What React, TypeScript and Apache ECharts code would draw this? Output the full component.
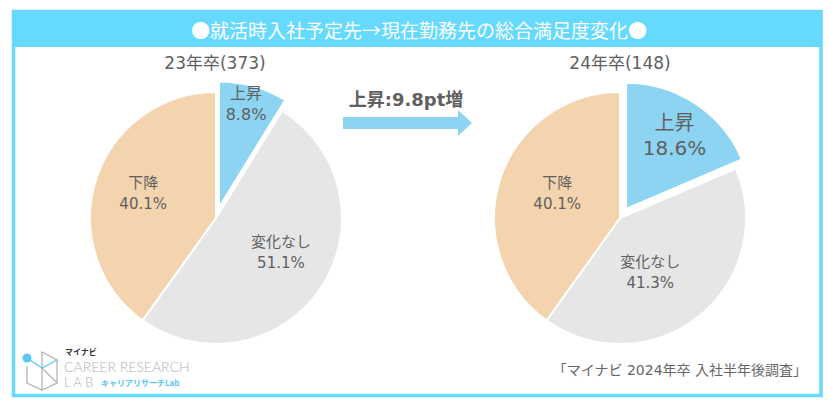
import React, { useEffect, useRef } from "react";
import * as echarts from "echarts";

const categories = ["上昇", "変化なし", "下降"];
const values23 = [8.8, 51.1, 40.1];
const values24 = [18.6, 41.3, 40.1];
const pieTitles = ["23年卒(373)", "24年卒(148)"];
const mainTitle = "●就活時入社予定先→現在勤務先の総合満足度変化●";
const arrowText = "上昇:9.8pt増";
const sourceText = "「マイナビ 2024年卒 入社半年後調査」";

const colors = ["#8DD4F3", "#E6E6E6", "#F3D4AE"];
const FONT = "'DejaVu Sans', 'Noto Sans CJK JP', sans-serif";
const JFONT = "'Noto Sans CJK JP', sans-serif";
const TXT = "#606060";

// label nudges [series][dataIndex] = [dx, dy]
const labelNudge = [
  [[9, -40], [10, -2], [-10, -4]],
  [[12, -18], [-11, 3], [0, -4]],
];

function makePie(values: number[], center: [number, number], idx: number) {
  return {
    type: "pie",
    center,
    radius: 126,
    startAngle: 90,
    clockwise: true,
    selectedMode: "single",
    selectedOffset: 11,
    silent: true,
    itemStyle: { borderColor: "#fff", borderWidth: 2 },
    label: {
      show: true,
      position: "inside",
      formatter: "{b}\n{c}%",
      color: TXT,
      fontFamily: FONT,
      fontSize: 15,
      lineHeight: 21,
    },
    labelLine: { show: false },
    labelLayout: (p: any) => {
      const n = labelNudge[idx][p.dataIndex] || [0, 0];
      return { dx: n[0], dy: n[1] };
    },
    data: categories.map((name, i) => ({
      name,
      value: values[i],
      selected: i === 0,
      itemStyle: { color: colors[i] },
      label:
        i === 0 && idx === 1
          ? { fontSize: 20, lineHeight: 25 }
          : i === 0
          ? { fontSize: 16, lineHeight: 21 }
          : undefined,
    })),
  };
}

export default function App() {
  const ref = useRef<HTMLDivElement>(null);
  useEffect(() => {
    document.body.style.margin = "0";
    const chart = echarts.init(ref.current!, null, { renderer: "svg" });
    chart.setOption({
      animation: false,
      backgroundColor: "#fff",
      graphic: [
        {
          type: "rect",
          shape: { x: 13.5, y: 11.5, width: 807.5, height: 384 },
          style: { fill: "none", stroke: "#66D9FF", lineWidth: 3.5 },
          z: 10,
        },
        {
          type: "rect",
          shape: { x: 12, y: 10, width: 810, height: 37 },
          style: { fill: "#66D9FF" },
          z: 10,
        },
        {
          type: "text",
          x: 419,
          y: 29,
          style: {
            text: mainTitle,
            fill: "#fff",
            font: `19px ${JFONT}`,
            align: "center",
            verticalAlign: "middle",
          },
          z: 11,
        },
        {
          type: "text",
          x: 215,
          y: 63,
          style: {
            text: pieTitles[0],
            fill: TXT,
            font: `17px ${FONT}`,
            align: "center",
            verticalAlign: "middle",
          },
        },
        {
          type: "text",
          x: 620,
          y: 63,
          style: {
            text: pieTitles[1],
            fill: TXT,
            font: `17px ${FONT}`,
            align: "center",
            verticalAlign: "middle",
          },
        },
        {
          type: "text",
          x: 406,
          y: 99,
          style: {
            text: arrowText,
            fill: TXT,
            font: `bold 18px ${FONT}`,
            align: "center",
            verticalAlign: "middle",
          },
        },
        {
          type: "polygon",
          shape: {
            points: [
              [343, 117],
              [458, 117],
              [458, 110],
              [472, 123],
              [458, 136],
              [458, 129],
              [343, 129],
            ],
          },
          style: { fill: "#8DD4F3" },
        },
        {
          type: "text",
          x: 807,
          y: 370,
          style: {
            text: sourceText,
            fill: "#666",
            font: `14px ${FONT}`,
            align: "right",
            verticalAlign: "middle",
          },
        },
        // logo icon
        {
          type: "polyline",
          shape: {
            points: [
              [27, 366],
              [27, 383],
              [42, 390],
              [57, 383],
              [57, 360],
              [42, 352],
              [42, 390],
            ],
          },
          style: { fill: "none", stroke: "#b5b5b5", lineWidth: 1.3 },
        },
        {
          type: "polyline",
          shape: {
            points: [
              [27, 358],
              [42, 368],
              [57, 360],
            ],
          },
          style: { fill: "none", stroke: "#5BC8F0", lineWidth: 1.3 },
        },
        {
          type: "line",
          shape: { x1: 42, y1: 368, x2: 57, y2: 383 },
          style: { stroke: "#b5b5b5", lineWidth: 1.3 },
        },
        {
          type: "circle",
          shape: { cx: 27, cy: 358, r: 4.5 },
          style: { fill: "#5BC8F0" },
        },
        {
          type: "text",
          x: 65,
          y: 351,
          style: {
            text: "マイナビ",
            fill: "#333",
            font: `bold 8px ${JFONT}`,
            verticalAlign: "middle",
          },
        },
        {
          type: "text",
          x: 64,
          y: 366,
          style: {
            text: "CAREER RESEARCH",
            fill: "#b3b3b3",
            font: `300 14px Lato, sans-serif`,
            verticalAlign: "middle",
          },
        },
        {
          type: "text",
          x: 64,
          y: 382,
          style: {
            text: "L A B",
            fill: "#b3b3b3",
            font: `300 13px Lato, sans-serif`,
            verticalAlign: "middle",
          },
        },
        {
          type: "text",
          x: 101,
          y: 382,
          style: {
            text: "キャリアリサーチLab",
            fill: "#5BC8F0",
            font: `bold 8px ${JFONT}`,
            verticalAlign: "middle",
          },
        },
      ],
      series: [
        makePie(values23, [216, 218], 0),
        makePie(values24, [620, 218], 1),
      ],
    });
    return () => chart.dispose();
  }, []);
  return <div ref={ref} style={{ width: 828, height: 405 }} />;
}
